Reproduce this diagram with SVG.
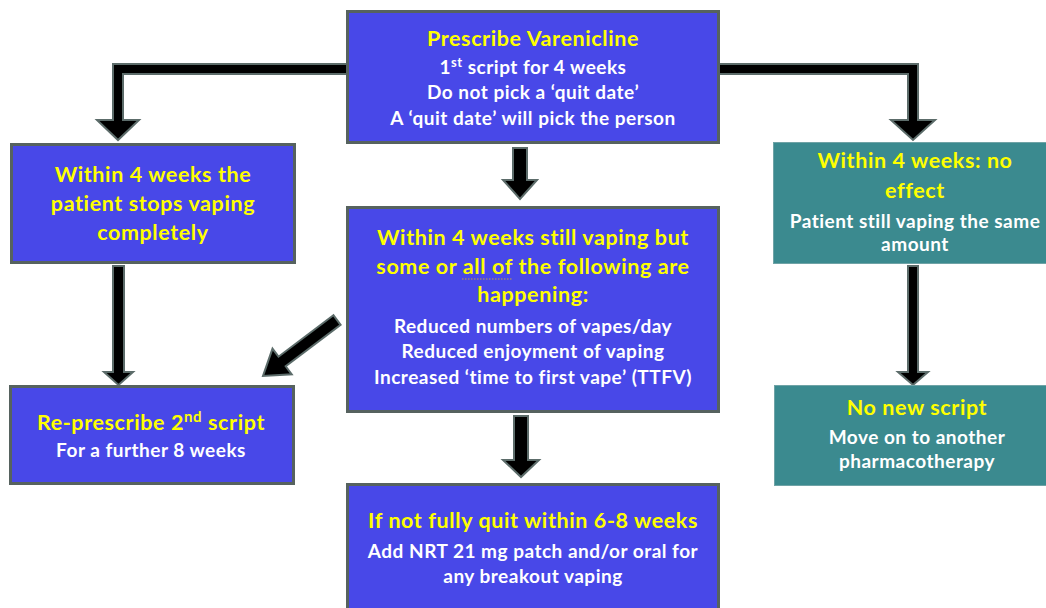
<svg xmlns="http://www.w3.org/2000/svg" width="1046" height="608" viewBox="0 0 1046 608">
<style>
.box{fill:#4848E8;stroke:#56625F;stroke-width:3}
.teal{fill:#3B8A8F;stroke:#6FA3A6;stroke-width:1}
.arr{fill:#000;stroke:#5C6C6A;stroke-width:2;stroke-linejoin:miter}
text{font-family:Lato,"Open Sans","Liberation Sans",sans-serif;font-weight:bold;text-anchor:middle}
.y{fill:#FFFF00;font-size:21.5px;letter-spacing:0.6px}
.w{fill:#FFFFFF;font-size:19px;letter-spacing:0.5px}
</style>
<rect width="1046" height="608" fill="#FFFFFF"/>
<g id="connectors">
<polygon class="arr" points="347,64 113,64 113,120 97,120 118,140 139,120 123,120 123,74 347,74"/>
<polygon class="arr" points="719,64 918,64 918,120 935,120 913,140 891,120 908,120 908,74 719,74"/>
<polygon class="arr" points="513,148 527,148 527,180 537,180 520,199 503,180 513,180"/>
<polygon class="arr" points="514,416 528,416 528,460 539,460 521,477 503,460 514,460"/>
<polygon class="arr" points="113,266 124,266 124,372 133,372 118.5,385 104,372 113,372"/>
<polygon class="arr" points="908,266 918,266 918,372 928,372 913,385 898,372 908,372"/>
<polygon class="arr" points="333.4,315.2 278.5,356.7 272.5,348.7 263,376 291.7,374.3 285.7,366.3 340.6,324.8"/>
</g>
<g id="prescribe">
<rect class="box" x="347.5" y="11.5" width="371" height="131"/>
<text class="y" x="533" y="46">Prescribe Varenicline</text>
<text class="w" x="533" y="74">1<tspan font-size="13" dy="-7">st</tspan><tspan dy="7"> script for 4 weeks</tspan></text>
<text class="w" x="533" y="99">Do not pick a ‘quit date’</text>
<text class="w" x="533" y="125">A ‘quit date’ will pick the person</text>
</g>
<g id="stops">
<rect class="box" x="11.5" y="144.5" width="283" height="118"/>
<text class="y" x="153" y="182">Within 4 weeks the</text>
<text class="y" x="153" y="211">patient stops vaping</text>
<text class="y" x="153" y="240">completely</text>
</g>
<g id="still">
<rect class="box" x="347.5" y="207.5" width="371" height="204"/>
<text class="y" x="533" y="245">Within 4 weeks still vaping but</text>
<text class="y" x="533" y="274">some or all of the following are</text>
<text class="y" x="533" y="302">happening:</text>
<line x1="462" y1="279" x2="512" y2="279" stroke="#C8A040" stroke-width="1.2" stroke-dasharray="1.5,1.5"/>
<text class="w" x="533" y="333">Reduced numbers of vapes/day</text>
<text class="w" x="533" y="358">Reduced enjoyment of vaping</text>
<text class="w" x="533" y="384">Increased ‘time to first vape’ (TTFV)</text>
</g>
<g id="noeffect">
<rect class="teal" x="773.5" y="142.5" width="275" height="121"/>
<text class="y" x="915" y="168">Within 4 weeks: no</text>
<text class="y" x="915" y="198">effect</text>
<text class="w" x="915" y="228">Patient still vaping the same</text>
<text class="w" x="915" y="251">amount</text>
</g>
<g id="represcribe">
<rect class="box" x="10.5" y="386.5" width="283" height="97"/>
<text class="y" x="151" y="430">Re-prescribe 2<tspan font-size="15" dy="-8">nd</tspan><tspan dy="8"> script</tspan></text>
<text class="w" x="151" y="457">For a further 8 weeks</text>
</g>
<g id="nonew">
<rect class="teal" x="774.5" y="385.5" width="274" height="100"/>
<text class="y" x="917" y="415">No new script</text>
<text class="w" x="917" y="444">Move on to another</text>
<text class="w" x="917" y="468">pharmacotherapy</text>
</g>
<g id="notquit">
<rect class="box" x="347.5" y="484.5" width="371" height="130"/>
<text class="y" x="533" y="528">If not fully quit within 6-8 weeks</text>
<text class="w" x="533" y="558">Add NRT 21 mg patch and/or oral for</text>
<text class="w" x="533" y="583">any breakout vaping</text>
</g>
</svg>
